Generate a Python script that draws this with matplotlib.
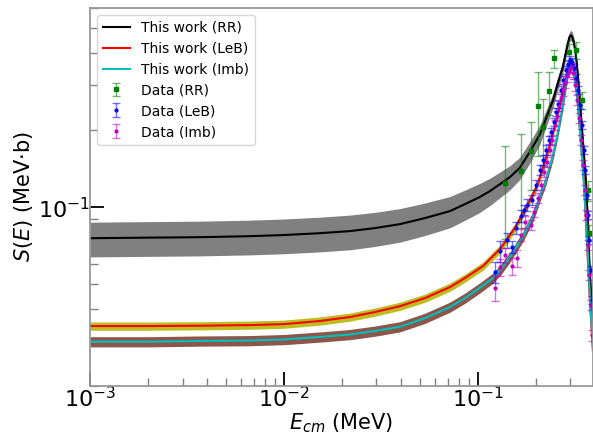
import matplotlib
matplotlib.use("Agg")
import matplotlib.pyplot as plt
import numpy as np

# model curves, E in MeV, S in MeV b
rr_E = [0.001, 0.002038, 0.00369, 0.006679, 0.01, 0.01533, 0.0219, 0.02945, 0.0396, 0.0533,
        0.0718, 0.0857, 0.102, 0.1153, 0.130, 0.1462, 0.164, 0.185, 0.209, 0.244, 0.2584,
        0.274, 0.2842, 0.291, 0.2962, 0.3015, 0.3069, 0.3124, 0.320, 0.3277, 0.3356, 0.3477,
        0.3603, 0.3690, 0.3755, 0.3847, 0.3915]
rr_S = [0.0756, 0.0760, 0.0763, 0.0770, 0.0778, 0.0791, 0.0806, 0.0828, 0.0858, 0.0906,
        0.0965, 0.1027, 0.1094, 0.1155, 0.1230, 0.1310, 0.1420, 0.1640, 0.1928, 0.2618, 0.3051,
        0.3523, 0.4032, 0.4371, 0.4613, 0.4697, 0.4613, 0.4411, 0.3925, 0.3277, 0.2618, 0.1827,
        0.1275, 0.0890, 0.0621, 0.0433, 0.0331]
rr_unc = [0.155, 0.155, 0.155, 0.155, 0.155, 0.155, 0.155, 0.152, 0.15, 0.145,
          0.14, 0.135, 0.13, 0.122, 0.115, 0.108, 0.10, 0.095, 0.085, 0.065, 0.06,
          0.055, 0.05, 0.046, 0.046, 0.046, 0.046, 0.046, 0.046, 0.046, 0.046, 0.046,
          0.046, 0.046, 0.046, 0.046, 0.046]

leb_E = [0.001, 0.002038, 0.00369, 0.006679, 0.01, 0.01533, 0.0219, 0.02945, 0.0396, 0.0533,
         0.0718, 0.0857, 0.1061, 0.1181, 0.1298, 0.1427, 0.1570, 0.1789, 0.2014, 0.2163, 0.2350,
         0.2553, 0.2710, 0.2876, 0.2927, 0.2979, 0.3034, 0.3088, 0.3143, 0.3238, 0.3396,
         0.3519, 0.3603, 0.3690, 0.3778, 0.3915]
leb_S = [0.0343, 0.0343, 0.0344, 0.0346, 0.0349, 0.0359, 0.0372, 0.0389, 0.0410, 0.0441,
         0.0487, 0.0528, 0.0588, 0.0638, 0.0685, 0.0756, 0.0843, 0.1009, 0.1208, 0.1420, 0.1746,
         0.2227, 0.2714, 0.3337, 0.3523, 0.3652, 0.3701, 0.3652, 0.3460, 0.2864, 0.1827,
         0.1275, 0.0890, 0.0621, 0.0433, 0.0276]
leb_unc = [0.037] * len(leb_E)

imb_E = [0.001, 0.002038, 0.00369, 0.006679, 0.01, 0.01533, 0.0219, 0.02945, 0.0396, 0.0533,
         0.0718, 0.0857, 0.1020, 0.1195, 0.1330, 0.1462, 0.1706, 0.1921, 0.2088,
         0.2241, 0.2435, 0.2584, 0.2742, 0.2842, 0.2910, 0.2979, 0.3051, 0.3124, 0.3200, 0.3277,
         0.3356, 0.3477, 0.3603, 0.3690, 0.3778, 0.3869, 0.3915]
imb_S = [0.0298, 0.0298, 0.0300, 0.0301, 0.0304, 0.0311, 0.0318, 0.0328, 0.0341, 0.0368,
         0.0407, 0.0441, 0.0483, 0.0528, 0.0578, 0.0638, 0.0767, 0.0918, 0.1099,
         0.1275, 0.1596, 0.1963, 0.2502, 0.2996, 0.3367, 0.3587, 0.3620, 0.3429, 0.2996, 0.2502,
         0.1999, 0.1395, 0.0930, 0.0649, 0.0453, 0.0331, 0.0289]
imb_unc = [0.046] * len(imb_E)

# data points
rr_dE = [0.1386, 0.1660, 0.1869, 0.2039, 0.2171, 0.2323, 0.2473, 0.2955, 0.3188, 0.3457, 0.3704, 0.3734]
rr_dS = [0.1241, 0.1382, 0.1655, 0.2480, 0.2054, 0.2838, 0.3819, 0.4032, 0.4106, 0.2618, 0.1165, 0.0791]
rr_err = [0.049, 0.055, 0.049, 0.09, 0.06, 0.055, 0.031, 0.031, 0.030, 0.019, 0.0105, 0.0057]

leb_dE = [0.1231, 0.1306, 0.1411, 0.1506, 0.1570, 0.1676, 0.1726, 0.1789, 0.1898, 0.1991, 0.2088,
          0.2163, 0.2241, 0.2323, 0.2378, 0.2464, 0.2523, 0.2584, 0.2677, 0.2742, 0.2842, 0.2910,
          0.2979, 0.3051, 0.3124, 0.3200, 0.3277, 0.3356, 0.3437, 0.3519, 0.3582, 0.3647, 0.3690,
          0.3755, 0.3824, 0.3869]
leb_dS = [0.0557, 0.0673, 0.0743, 0.0698, 0.0828, 0.0922, 0.0973, 0.1018, 0.1065, 0.1219, 0.1395,
          0.1527, 0.1670, 0.1827, 0.1963, 0.2148, 0.2350, 0.2525, 0.2864, 0.3133, 0.3429, 0.3620,
          0.3751, 0.3684, 0.3491, 0.3190, 0.2864, 0.2502, 0.2091, 0.1670, 0.1395, 0.1114, 0.0930,
          0.0743, 0.0567, 0.0433]
leb_err = [0.0052, 0.0063, 0.0048, 0.0038, 0.0046, 0.0051, 0.0045, 0.0056, 0.0049, 0.0056, 0.0064,
           0.0070, 0.0077, 0.0068, 0.0073, 0.0079, 0.0087, 0.0093, 0.0106, 0.0116, 0.0127, 0.0134,
           0.0139, 0.0136, 0.0129, 0.0118, 0.0106, 0.0093, 0.0077, 0.0062, 0.0052, 0.0041, 0.0034,
           0.0027, 0.0021, 0.0016]

imb_dE = [0.1224, 0.1298, 0.1386, 0.1497, 0.1598, 0.1666, 0.1747, 0.1887, 0.1944, 0.2039, 0.2112,
          0.2189, 0.2268, 0.2350, 0.2406, 0.2493, 0.2553, 0.2614, 0.2677, 0.2742, 0.2809, 0.2876,
          0.2945, 0.3015, 0.3088, 0.3162, 0.3238, 0.3316, 0.3396, 0.3477, 0.3560, 0.3625, 0.3690,
          0.3755, 0.3824, 0.3892]
imb_dS = [0.0483, 0.0583, 0.0649, 0.0588, 0.0632, 0.0778, 0.0874, 0.0851, 0.0956, 0.1084, 0.1219,
          0.1370, 0.1499, 0.1670, 0.1827, 0.2091, 0.2266, 0.2480, 0.2666, 0.2864, 0.3077, 0.3249,
          0.3398, 0.3491, 0.3337, 0.2996, 0.2618, 0.2227, 0.1827, 0.1459, 0.1165, 0.0930, 0.0710,
          0.0543, 0.0414, 0.0316]
imb_err = [0.0055, 0.0044, 0.0042, 0.0044, 0.0047, 0.0043, 0.0048, 0.0039, 0.0044, 0.0050, 0.0056,
           0.0063, 0.0069, 0.0077, 0.0084, 0.0096, 0.0104, 0.0114, 0.0147, 0.0158, 0.0169, 0.0179,
           0.0187, 0.0161, 0.0184, 0.0165, 0.0120, 0.0102, 0.0084, 0.0067, 0.0054, 0.0043, 0.0033,
           0.0025, 0.0019, 0.0015]


def band(ax, E, S, unc, color):
    S = np.array(S)
    u = np.array(unc)
    ax.fill_between(E, S * (1 - u), S * (1 + u), color=color, lw=0)


fig = plt.figure(figsize=(5.93, 4.34), dpi=100)
ax = fig.add_axes([0.1518, 0.1106, 0.8474, 0.871])

band(ax, rr_E, rr_S, rr_unc, "gray")
band(ax, leb_E, leb_S, leb_unc, "#bcbd22")
band(ax, imb_E, imb_S, imb_unc, "#8c564b")

ax.plot(rr_E, rr_S, color="k", lw=1.5, label="This work (RR)")
ax.plot(leb_E, leb_S, color="r", lw=1.5, label="This work (LeB)")
ax.plot(imb_E, imb_S, color="c", lw=1.5, label="This work (Imb)")

ax.errorbar(rr_dE, rr_dS, yerr=rr_err, fmt="s", color="g", ms=3.5, ecolor="g",
            elinewidth=1, capsize=3, label="Data (RR)")
ax.errorbar(leb_dE, leb_dS, yerr=leb_err, fmt=".", color="b", ms=4, ecolor="b",
            elinewidth=1, capsize=3, label="Data (LeB)")
ax.errorbar(imb_dE, imb_dS, yerr=imb_err, fmt=".", color="m", ms=4, ecolor="m",
            elinewidth=1, capsize=3, label="Data (Imb)")
for c in ax.containers:
    for bar in c[2]:
        bar.set_alpha(0.55)
    for cap in c[1]:
        cap.set_alpha(0.55)

ax.set_xscale("log")
ax.set_yscale("log")
ax.set_xlim(1e-3, 0.39)
ax.set_ylim(0.02, 0.6)

ax.set_xlabel(r"$E_{cm}$ (MeV)", fontsize=15, labelpad=0)
ax.set_ylabel(r"$S(E)$ (MeV$\cdot$b)", fontsize=15, labelpad=2)
ax.tick_params(which="major", direction="in", length=10, width=1.3, labelsize=16,
               color="k", pad=0)
ax.tick_params(which="minor", direction="in", length=6, width=1, color="0.5")
ax.yaxis.set_minor_formatter(matplotlib.ticker.NullFormatter())
for s in ax.spines.values():
    s.set_color("0.6")
    s.set_linewidth(1.3)

ax.legend(loc="upper left", fontsize=10)

fig.savefig("out.png", dpi=100)
